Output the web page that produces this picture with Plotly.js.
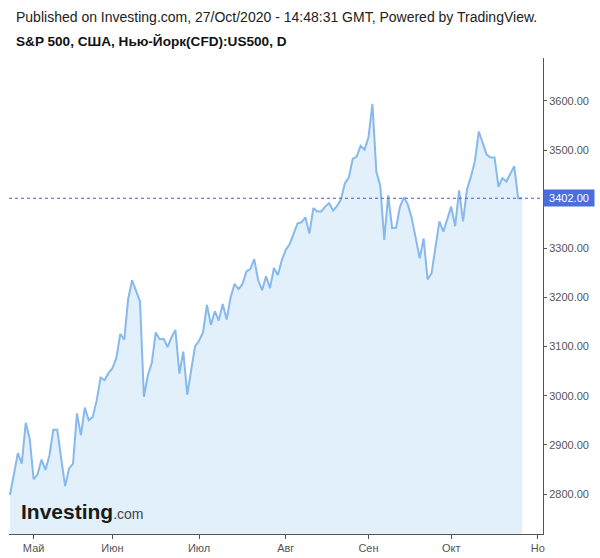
<!DOCTYPE html>
<html>
<head>
<meta charset="utf-8">
<script src="https://cdn.plot.ly/plotly-3.0.1.min.js"></script>
<style>
html,body{margin:0;padding:0;background:#fff;}
#chart{width:600px;height:558px;}
</style>
</head>
<body>
<div id="chart"></div>
<script>
// Trading days (daily bars)
const dates = [
 '2020-04-23','2020-04-24','2020-04-27','2020-04-28','2020-04-29','2020-04-30',
 '2020-05-01','2020-05-04','2020-05-05','2020-05-06','2020-05-07','2020-05-08','2020-05-11','2020-05-12','2020-05-13','2020-05-14','2020-05-15','2020-05-18','2020-05-19','2020-05-20','2020-05-21','2020-05-22','2020-05-26','2020-05-27','2020-05-28','2020-05-29',
 '2020-06-01','2020-06-02','2020-06-03','2020-06-04','2020-06-05','2020-06-08','2020-06-09','2020-06-10','2020-06-11','2020-06-12','2020-06-15','2020-06-16','2020-06-17','2020-06-18','2020-06-19','2020-06-22','2020-06-23','2020-06-24','2020-06-25','2020-06-26','2020-06-29','2020-06-30',
 '2020-07-01','2020-07-02','2020-07-06','2020-07-07','2020-07-08','2020-07-09','2020-07-10','2020-07-13','2020-07-14','2020-07-15','2020-07-16','2020-07-17','2020-07-20','2020-07-21','2020-07-22','2020-07-23','2020-07-24','2020-07-27','2020-07-28','2020-07-29','2020-07-30','2020-07-31',
 '2020-08-03','2020-08-04','2020-08-05','2020-08-06','2020-08-07','2020-08-10','2020-08-11','2020-08-12','2020-08-13','2020-08-14','2020-08-17','2020-08-18','2020-08-19','2020-08-20','2020-08-21','2020-08-24','2020-08-25','2020-08-26','2020-08-27','2020-08-28','2020-08-31',
 '2020-09-01','2020-09-02','2020-09-03','2020-09-04','2020-09-08','2020-09-09','2020-09-10','2020-09-11','2020-09-14','2020-09-15','2020-09-16','2020-09-17','2020-09-18','2020-09-21','2020-09-22','2020-09-23','2020-09-24','2020-09-25','2020-09-28','2020-09-29','2020-09-30',
 '2020-10-01','2020-10-02','2020-10-05','2020-10-06','2020-10-07','2020-10-08','2020-10-09','2020-10-12','2020-10-13','2020-10-14','2020-10-15','2020-10-16','2020-10-19','2020-10-20','2020-10-21','2020-10-22','2020-10-23','2020-10-26','2020-10-27'
];

// Close values
const closes = [
 2798,2838,2883,2862,2945,2913,
 2830,2840,2870,2849,2878,2931,2931,2872,2816,2852,2862,2964,2920,2976,2950,2957,2990,3037,3032,3046,
 3056,3077,3126,3114,3197,3235,3214,3192,2998,3042,3067,3129,3115,3116,3099,3119,3134,3045,3090,3002,3053,3101,
 3112,3129,3185,3144,3172,3153,3187,3155,3200,3228,3217,3227,3253,3258,3278,3235,3215,3243,3219,3260,3246,3276,
 3297,3309,3330,3351,3353,3363,3330,3382,3375,3375,3385,3392,3377,3386,3399,3432,3444,3482,3487,3509,3501,
 3526,3594,3456,3427,3317,3408,3341,3342,3385,3404,3389,3361,3323,3280,3320,3237,3249,3300,3355,3334,3361,
 3385,3345,3418,3355,3420,3446,3477,3538,3514,3491,3485,3485,3425,3443,3436,3453,3467,3402,3402
];

const lastPrice = 3402.00;

// Month ticks
const tickDates = ['2020-05-01','2020-06-01','2020-07-01','2020-08-03','2020-09-01','2020-10-01'];
const tickLabels = ['Май','Июн','Июл','Авг','Сен','Окт','Но'];
const yTicks = [2800,2900,3000,3100,3200,3300,3500,3600];

const xIdx = dates.map((d,i)=>i);
const tickvals = tickDates.map(d=>dates.indexOf(d));
// Nov 2 = 4 trading days after Oct 27 (Oct 28, 29, 30, Nov 2)
tickvals.push(dates.length - 1 + 4);

const trace = {
  x: xIdx,
  y: closes,
  text: dates,
  type: 'scatter',
  mode: 'lines',
  line: {color:'#88b9ec', width:2},
  fill: 'tozeroy',
  fillcolor: '#e1f0fa',
  hoverinfo: 'text+y'
};

const font = "'Liberation Sans', Arial, sans-serif";

const layout = {
  width: 600, height: 558,
  margin: {l:9, r:57, t:58, b:24, pad:0},
  paper_bgcolor: '#ffffff',
  plot_bgcolor: '#ffffff',
  showlegend: false,
  font: {family: font, size: 11, color: '#555555'},
  xaxis: {
    range: [-0.25, 135.3],
    showgrid: false, zeroline: false,
    showline: true, linecolor: '#555555', linewidth: 1,
    ticks: 'outside', ticklen: 4, tickcolor: '#555555',
    tickmode: 'array', tickvals: tickvals, ticktext: tickLabels,
    tickfont: {family: font, size: 11, color: '#555555'}
  },
  yaxis: {
    side: 'right',
    range: [2718.6, 3687.5],
    showgrid: false, zeroline: false,
    showline: true, linecolor: '#555555', linewidth: 1,
    ticks: 'outside', ticklen: 3, tickcolor: '#555555',
    tickmode: 'array', tickvals: yTicks,
    tickformat: '.2f',
    tickfont: {family: font, size: 11, color: '#555555'}
  },
  shapes: [{
    type: 'line', xref: 'paper', x0: 0, x1: 1, yref: 'y', y0: lastPrice, y1: lastPrice,
    line: {color: '#3e60d4', width: 1, dash: 'dot'}
  }],
  annotations: [
    {xref:'paper', yref:'paper', x:(14-9)/534, y:(534-17)/476, xanchor:'left', yanchor:'middle',
     showarrow:false, text:'Published on Investing.com, 27/Oct/2020 - 14:48:31 GMT, Powered by TradingView.',
     font:{family:font, size:14, color:'#222222'}},
    {xref:'paper', yref:'paper', x:(14-9)/534, y:(534-42)/476, xanchor:'left', yanchor:'middle',
     showarrow:false, text:'<b>S&P 500, США, Нью-Йорк(CFD):US500, D</b>',
     font:{family:font, size:13.6, color:'#111111'}},
    {xref:'paper', yref:'y', x:1, y:lastPrice, xanchor:'left', yanchor:'middle',
     showarrow:false, text: lastPrice.toFixed(2), bgcolor:'#4a6fdc', borderpad:1,
     width:48, height:14, align:'center',
     font:{family:font, size:11, color:'#ffffff'}},
    {xref:'paper', yref:'paper', x:(19-9)/534, y:(534-511)/476, xanchor:'left', yanchor:'middle',
     showarrow:false, text:'<b>Investing</b><span style="font-size:14px;color:#444;font-weight:normal">.com</span>',
     font:{family:font, size:21, color:'#1a1a1a'}}
  ]
};

Plotly.newPlot('chart', [trace], layout, {displayModeBar:false, staticPlot:true});
</script>
</body>
</html>
